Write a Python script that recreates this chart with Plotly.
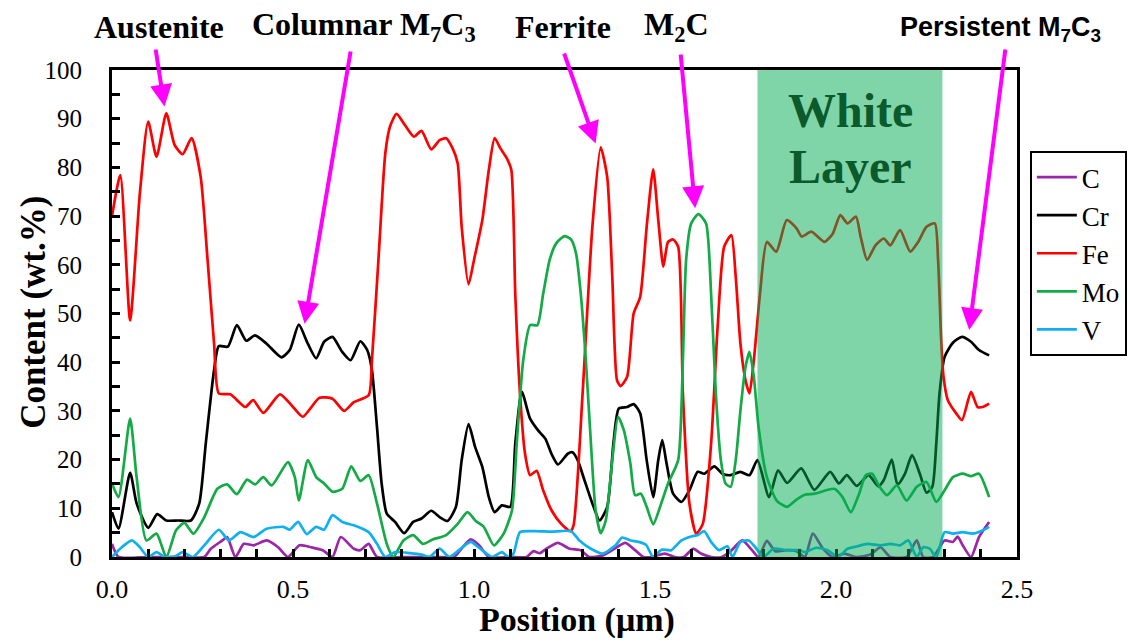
import plotly.graph_objects as go

# ---------------- data (position in µm, content in wt.%) ----------------
elements = ["C", "Cr", "Fe", "Mo", "V"]
colors = ["#9B27A8", "#000000", "#FF0000", "#14AA46", "#10B0F0"]

c_profile = [(0, 2.7), (0.018, 0), (0.1, 0), (0.2, 0), (0.255, 0), (0.273, 1.7), (0.305, 3.4), (0.318, 4.1),
             (0.341, 0), (0.364, 2.7), (0.391, 2.4), (0.427, 3.4), (0.459, 2), (0.486, 0), (0.518, 2.4), (0.55, 2),
             (0.582, 1.4), (0.609, 0), (0.632, 4.1), (0.668, 1.7), (0.686, 1.4), (0.709, 2.7), (0.732, 0), (0.8, 0),
             (0.9, 0), (0.945, 0), (0.965, 1.7), (0.991, 3.6), (1.014, 2.4), (1.041, 0), (1.1, 0), (1.145, 0),
             (1.164, 1.2), (1.182, 0.8), (1.2, 1.7), (1.232, 2.9), (1.264, 1.7), (1.295, 1.4), (1.318, 0),
             (1.355, 0.3), (1.382, 1.4), (1.418, 2.9), (1.445, 1.4), (1.468, 0), (1.491, 0), (1.527, 0.7),
             (1.555, 0), (1.58, 0), (1.605, 1.7), (1.627, 0.7), (1.655, 0), (1.685, 0), (1.709, 1.2), (1.741, 3.4),
             (1.768, 1.4), (1.786, 0), (1.809, 3.3), (1.832, 1.2), (1.864, 1.4), (1.891, 1.2), (1.914, 0),
             (1.936, 4.8), (1.964, 1.7), (1.991, 0), (2.023, 0.7), (2.055, 0), (2.095, 0.5), (2.123, 2), (2.15, 0),
             (2.195, 0), (2.223, 3.4), (2.241, 0), (2.268, 0), (2.3, 3.4), (2.323, 3.1), (2.336, 4.2), (2.35, 2.4),
             (2.373, 0), (2.395, 4.1), (2.423, 7.2)]

cr_profile = [(0, 9.2), (0.018, 5.8), (0.05, 17.3), (0.068, 11), (0.1, 6), (0.125, 8.8), (0.15, 7.5), (0.182, 7.5),
              (0.218, 7.5), (0.241, 11), (0.259, 23.3), (0.282, 38.4), (0.295, 43.3), (0.32, 43.2), (0.345, 47.6),
              (0.371, 44.4), (0.395, 45.5), (0.427, 43.8), (0.468, 41), (0.491, 42.5), (0.516, 47.7), (0.541, 43.8),
              (0.564, 40.8), (0.586, 44.2), (0.609, 45.2), (0.636, 42.1), (0.659, 40.4), (0.686, 44.3), (0.705, 42.5),
              (0.718, 38.4), (0.732, 26.7), (0.745, 15), (0.759, 8.9), (0.782, 7.2), (0.807, 4.9), (0.832, 7.2),
              (0.855, 7.9), (0.882, 9.5), (0.905, 8.2), (0.927, 7.4), (0.95, 10.3), (0.966, 19.9), (0.985, 27.3),
              (1.003, 22.6), (1.023, 18.5), (1.041, 12.3), (1.057, 9.2), (1.077, 10.6), (1.1, 10.3), (1.114, 23.3),
              (1.132, 33.9), (1.155, 28.4), (1.177, 26), (1.197, 24.3), (1.214, 21.2), (1.232, 19), (1.259, 21.2),
              (1.272, 21.5), (1.287, 19.8), (1.305, 15.8), (1.327, 11), (1.347, 7.5), (1.368, 10.3), (1.386, 24),
              (1.4, 30.5), (1.423, 30.8), (1.441, 31.4), (1.459, 29.5), (1.477, 19.9), (1.495, 12.3), (1.509, 19.9),
              (1.52, 24), (1.532, 19.2), (1.55, 13), (1.573, 11.3), (1.595, 13.7), (1.618, 17.5), (1.636, 17.1),
              (1.664, 18.6), (1.686, 17.1), (1.709, 16.8), (1.736, 17.5), (1.761, 16.8), (1.783, 19.9),
              (1.815, 12.3), (1.84, 17.8), (1.865, 15.2), (1.904, 18.2), (1.94, 13.8), (1.984, 17.5), (2.008, 15.1),
              (2.03, 16.8), (2.057, 14.6), (2.09, 16.8), (2.117, 14.5), (2.132, 15.8), (2.154, 20), (2.17, 14.8),
              (2.19, 17), (2.21, 20.9), (2.232, 17), (2.25, 13.2), (2.266, 14.4), (2.277, 23.3), (2.286, 33.6),
              (2.3, 41.1), (2.323, 44), (2.348, 45.2), (2.373, 44.2), (2.395, 42.5), (2.423, 41.4)]

fe_profile = [(0, 70), (0.023, 78.4), (0.05, 48.6), (0.077, 74.7), (0.1, 89.4), (0.123, 82.2), (0.15, 91.1),
              (0.173, 84.6), (0.195, 82.7), (0.22, 86), (0.245, 78), (0.264, 61), (0.282, 43.8), (0.295, 33.6),
              (0.327, 33.4), (0.368, 30.8), (0.39, 32.2), (0.418, 29.6), (0.464, 33.4), (0.5, 30.8), (0.527, 28.8),
              (0.573, 32.7), (0.609, 32.5), (0.641, 30.0), (0.668, 31.8), (0.709, 33.2), (0.718, 40.4), (0.736, 61),
              (0.755, 82.9), (0.768, 88.4), (0.786, 91), (0.809, 88.7), (0.834, 86.3), (0.855, 87.5), (0.882, 83.7),
              (0.905, 85.6), (0.923, 86), (0.941, 83.9), (0.955, 80.8), (0.966, 67.8), (0.985, 56), (1.0, 61),
              (1.023, 69.2), (1.041, 79.5), (1.057, 86), (1.073, 83.9), (1.091, 81.8), (1.103, 79.5), (1.114, 54),
              (1.127, 33.6), (1.141, 21.2), (1.155, 16.8), (1.173, 17.7), (1.191, 13.7), (1.214, 9.6), (1.241, 6.8),
              (1.266, 5.3), (1.275, 6.5), (1.3, 33.6), (1.327, 67.8), (1.35, 84.1), (1.368, 78), (1.382, 57.5),
              (1.395, 36.3), (1.405, 35.1), (1.423, 37), (1.441, 50), (1.459, 53.4), (1.477, 67.8), (1.495, 79.6),
              (1.509, 69.2), (1.523, 59.6), (1.536, 64.7), (1.55, 65.2), (1.564, 63.7), (1.577, 33.6), (1.595, 11),
              (1.614, 4.8), (1.632, 6.8), (1.655, 23.3), (1.673, 47.3), (1.691, 63.7), (1.711, 66.1), (1.723, 57.5),
              (1.736, 43.8), (1.75, 36.3), (1.761, 33.6), (1.773, 40.4), (1.79, 54), (1.809, 64.7), (1.835, 62.7),
              (1.864, 69.2), (1.891, 67.5), (1.905, 65.8), (1.932, 66.8), (1.968, 64.7), (1.991, 66.4),
              (2.012, 70.2), (2.032, 68.5), (2.055, 69.9), (2.068, 65.8), (2.086, 61), (2.109, 64), (2.132, 65.4),
              (2.15, 64), (2.177, 67.1), (2.205, 62.7), (2.227, 64.7), (2.25, 67.8), (2.273, 68.5), (2.282, 61),
              (2.291, 43.8), (2.297, 37), (2.309, 32.2), (2.332, 29.5), (2.348, 28.1), (2.373, 33.9), (2.391, 30.8),
              (2.405, 30.8), (2.423, 31.5)]

mo_profile = [(0, 15.1), (0.018, 12.3), (0.05, 28.4), (0.068, 16.4), (0.095, 3.4), (0.123, 4.8), (0.15, 0),
              (0.177, 5.5), (0.2, 7), (0.225, 4.8), (0.255, 8.2), (0.291, 14), (0.318, 14.9), (0.345, 12.9),
              (0.373, 15.9), (0.395, 14.9), (0.418, 16.4), (0.441, 14.7), (0.486, 19.5), (0.505, 16.4),
              (0.516, 11.6), (0.541, 19.9), (0.564, 16.4), (0.586, 15.1), (0.609, 13.4), (0.636, 14), (0.661, 18.6),
              (0.686, 15.6), (0.709, 16.8), (0.732, 11), (0.759, 2.7), (0.777, 0), (0.805, 3.4), (0.832, 4.5),
              (0.859, 2.7), (0.886, 3.6), (0.923, 4.5), (0.955, 6.8), (0.982, 9.2), (1.005, 7.4), (1.027, 6.2),
              (1.055, 2.4), (1.082, 4.8), (1.105, 9.6), (1.118, 23.3), (1.136, 40.4), (1.155, 47.6), (1.175, 47.6),
              (1.191, 54), (1.209, 61), (1.227, 64.4), (1.25, 65.9), (1.268, 65.2), (1.282, 62.3), (1.295, 54),
              (1.309, 40.4), (1.323, 23.3), (1.336, 9.6), (1.35, 4.9), (1.364, 7.5), (1.382, 19.9), (1.398, 28.8),
              (1.414, 26), (1.432, 19.2), (1.445, 12.7), (1.461, 13), (1.477, 10.3), (1.495, 6.7), (1.514, 10.3),
              (1.536, 15.1), (1.564, 19.9), (1.577, 40.4), (1.586, 61), (1.6, 68.5), (1.62, 70.4), (1.641, 68.5),
              (1.655, 54), (1.668, 33.6), (1.682, 19.9), (1.695, 15.1), (1.709, 14.4), (1.723, 19.9), (1.736, 30.1),
              (1.75, 39), (1.761, 42.1), (1.773, 37), (1.786, 26.7), (1.809, 16.4), (1.836, 11.6), (1.864, 10.3),
              (1.891, 11.8), (1.914, 12.8), (1.941, 13), (1.995, 14), (2.018, 12.3), (2.041, 9.2), (2.064, 13),
              (2.082, 16.8), (2.1, 17.1), (2.118, 14.7), (2.141, 12.7), (2.168, 14.7), (2.195, 11.6), (2.223, 14.4),
              (2.25, 15.4), (2.277, 11.3), (2.3, 13.7), (2.323, 16.4), (2.35, 17.1), (2.373, 16.6), (2.395, 17.1),
              (2.423, 12.3)]

v_profile = [(0, 0), (0.027, 2), (0.055, 3.4), (0.077, 2), (0.1, 0), (0.123, 1), (0.145, 0), (0.173, 0.1),
             (0.195, 1), (0.223, 0), (0.255, 2.4), (0.295, 5.6), (0.323, 3.4), (0.355, 5.1), (0.391, 4.1),
             (0.427, 5.8), (0.473, 6.2), (0.491, 5.6), (0.514, 7.2), (0.538, 4.7), (0.564, 6.2), (0.586, 5.6),
             (0.609, 8.6), (0.636, 7.2), (0.668, 6.5), (0.709, 5.1), (0.732, 2.7), (0.755, 0), (0.782, 1),
             (0.823, 0.8), (0.855, 0.5), (0.877, 0), (0.905, 1.7), (0.932, 0), (0.968, 2), (0.991, 3.1),
             (1.014, 1.9), (1.05, 0), (1.077, 1), (1.095, 0), (1.109, 0.7), (1.127, 5.1), (1.168, 5.3), (1.214, 5.2),
             (1.268, 5.3), (1.291, 3.4), (1.323, 1.7), (1.355, 0.7), (1.391, 2.4), (1.409, 4), (1.432, 3.4),
             (1.455, 3.1), (1.475, 2.5), (1.495, 0), (1.518, 1.5), (1.545, 1.4), (1.573, 3.4), (1.6, 4.2),
             (1.618, 4.5), (1.636, 5.3), (1.655, 3.1), (1.677, 1.4), (1.7, 2.2), (1.714, 0), (1.736, 3.1),
             (1.759, 3.4), (1.777, 2), (1.8, 0), (1.827, 1.7), (1.864, 1.4), (1.9, 1.4), (1.914, 1), (1.945, 1.9),
             (1.977, 1.4), (2.005, 0), (2.032, 1.7), (2.059, 2.2), (2.086, 2.7), (2.123, 2.4), (2.15, 2.7),
             (2.177, 2.4), (2.2, 3.4), (2.223, 0), (2.241, 2), (2.259, 1.7), (2.277, 0), (2.3, 5.1), (2.323, 4.8),
             (2.35, 5.1), (2.377, 4.8), (2.4, 5.3), (2.423, 6.2)]

profiles = [c_profile, cr_profile, fe_profile, mo_profile, v_profile]

white_layer = (1.783, 2.294)  # µm

# phase labels: (text, arrow-tip x in µm, arrow-tip y in wt.%)
phase_labels = [
    ("Austenite", 0.145, 92.5),
    ("Columnar M<sub>7</sub>C<sub>3</sub>", 0.532, 47.9),
    ("Ferrite", 1.336, 84.9),
    ("M<sub>2</sub>C", 1.611, 71.6),
    ("Persistent M<sub>7</sub>C<sub>3</sub>", 2.368, 46.6),
]

# ---------------- figure ----------------
SERIF = "Liberation Serif"
fig = go.Figure()
for name, col, prof in zip(elements, colors, profiles):
    xs = [p[0] for p in prof]
    ys = [p[1] for p in prof]
    fig.add_trace(go.Scatter(x=xs, y=ys, mode="lines", name=name, legendgroup=name,
                             line=dict(color=col, width=2.7, shape="spline", smoothing=0.6)))

L, R, T, B = 112, 112, 70, 86
W, H = 1139, 643
pw, ph = W - L - R, H - T - B


def px_x(px):
    return (px - L) / pw


def px_y(py):
    return (H - B - py) / ph


fig.add_shape(type="rect", xref="x", yref="y", x0=white_layer[0], x1=white_layer[1], y0=0, y1=100,
              fillcolor="rgb(0,171,81)", opacity=0.5, line=dict(width=0), layer="above")


def label(text, xp, yp, size, fam=SERIF, color="black", angle=0):
    return dict(text=text, xref="paper", yref="paper", x=px_x(xp), y=px_y(yp),
                xanchor="center", yanchor="middle", showarrow=False, textangle=angle,
                font=dict(family=fam, size=size, color=color))


ann = [label("<b>White</b>", 859, 111, 48, color="#0B5A2B"),
       label("<b>Layer</b>", 859, 166, 48, color="#0B5A2B")]

label_pos = [(160, 27), (367, 27), (568, 27), (683, 27), (1010, 29)]
tails = [(156, 48), (353, 50), (569, 52), (687, 53), (1015, 48)]
for i, ((txt, tx, ty), (lx, ly), (tlx, tly)) in enumerate(zip(phase_labels, label_pos, tails)):
    fam = "Liberation Sans" if i == 4 else SERIF
    size = 27 if i == 4 else 32
    ann.append(label("<b>" + txt + "</b>", lx, ly, size, fam=fam))
    tip_px_x = L + tx / 2.5 * pw
    tip_px_y = H - B - ty / 100 * ph
    ann.append(dict(text="", x=tx, y=ty, xref="x", yref="y", showarrow=True,
                    ax=tlx - tip_px_x, ay=tly - tip_px_y, axref="pixel", ayref="pixel",
                    arrowhead=2, arrowsize=1.1, arrowwidth=4, arrowcolor="#FF00FF", standoff=0))

ann.append(label("<b>Position (μm)</b>", 582, 620, 34))
ann.append(label("<b>Content (wt.%)</b>", 32, 312, 35, angle=-90))

fig.update_layout(
    width=W, height=H, margin=dict(l=L, r=R, t=T, b=B),
    paper_bgcolor="white", plot_bgcolor="white",
    font=dict(family=SERIF, size=27, color="black"),
    annotations=ann,
    showlegend=True,
    legend=dict(x=px_x(1040), y=px_y(151), xanchor="left", yanchor="top",
                bordercolor="black", borderwidth=2, bgcolor="white",
                font=dict(family=SERIF, size=27, color="black"),
                itemwidth=40, tracegroupgap=10, traceorder="normal"),
)
fig.update_xaxes(range=[0, 2.5], dtick=0.5, tickformat=".1f", showgrid=False, zeroline=False,
                 showline=True, linecolor="black", linewidth=3, mirror=True,
                 ticks="inside", ticklen=8, tickwidth=2.5, tickcolor="black", ticklabelstandoff=7,
                 tickfont=dict(family=SERIF, size=26),
                 minor=dict(dtick=0.1, ticks="inside", ticklen=8, tickwidth=2.5, tickcolor="black", showgrid=False))
fig.update_yaxes(range=[0, 100], dtick=10, showgrid=False, zeroline=False,
                 showline=True, linecolor="black", linewidth=3, mirror=True,
                 ticks="inside", ticklen=8, tickwidth=2.5, tickcolor="black", ticklabelstandoff=22,
                 tickfont=dict(family=SERIF, size=25),
                 minor=dict(dtick=5, ticks="inside", ticklen=8, tickwidth=2.5, tickcolor="black", showgrid=False))

fig.write_html("out.html")
